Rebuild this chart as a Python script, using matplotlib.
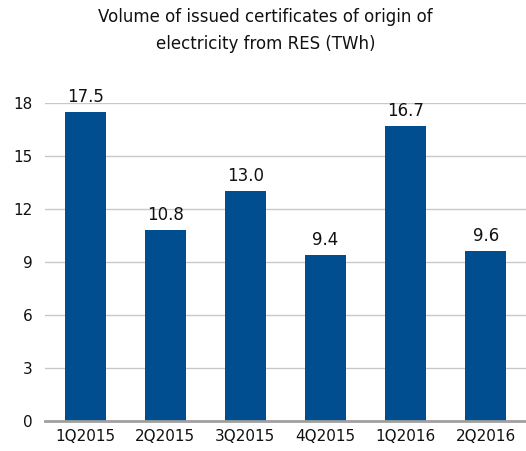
import matplotlib
matplotlib.use('Agg')
import matplotlib.pyplot as plt

quarters = ['1Q2015', '2Q2015', '3Q2015', '4Q2015', '1Q2016', '2Q2016']
volume_twh = [17.5, 10.8, 13.0, 9.4, 16.7, 9.6]
y_ticks = [0, 3, 6, 9, 12, 15, 18]

plt.rcParams['font.family'] = ['DejaVu Sans']

fig = plt.figure(figsize=(5.26, 4.51), dpi=100)
ax = fig.add_axes([0.0856, 0.0665, 0.9144, 0.7051])

x = range(len(quarters))
ax.bar(x, volume_twh, width=0.51, color='#004d8f', zorder=3)
for xi, v in zip(x, volume_twh):
	ax.text(xi, v + 0.35, '%.1f' % v, ha='center', va='bottom', fontsize=12, color='#111111', zorder=4, clip_on=False)

ax.set_xlim(-0.5, len(quarters) - 0.5)
ax.set_ylim(0, 18)
ax.set_yticks(y_ticks)
ax.set_xticks(list(x))
ax.set_xticklabels(quarters)
ax.tick_params(axis='both', length=0, labelsize=11, colors='#111111')
ax.tick_params(axis='y', pad=9)
ax.tick_params(axis='x', pad=6)
ax.grid(axis='y', color='#c8c8c8', linewidth=1, zorder=0)
for side in ['left', 'right', 'top']:
	ax.spines[side].set_visible(False)
ax.spines['bottom'].set_color('#a0a0a0')
ax.spines['bottom'].set_linewidth(2)
ax.spines['bottom'].set_zorder(5)

fig.text(0.505, 0.932, 'Volume of issued certificates of origin of\nelectricity from RES (TWh)',
	ha='center', va='center', fontsize=12, color='#111111', linespacing=1.6)

fig.savefig('out.png', dpi=100)
